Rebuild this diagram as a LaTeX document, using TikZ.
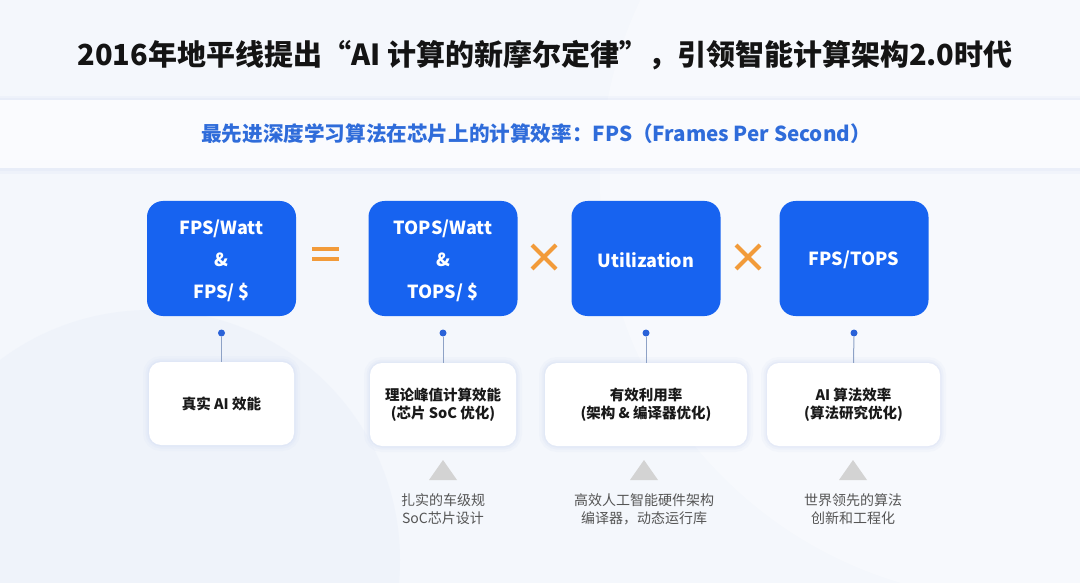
\documentclass[tikz,border=0pt]{standalone}
\usepackage{fontspec}
\setmainfont{Noto Sans CJK SC}
\definecolor{bg}{HTML}{F4F7FC}
\definecolor{bgdeco}{HTML}{ECF1FA}
\definecolor{band}{HTML}{FAFBFE}
\definecolor{mainblue}{HTML}{1763F0}
\definecolor{subblue}{HTML}{2F6CDA}
\definecolor{dotblue}{HTML}{2A62D8}
\definecolor{linec}{HTML}{8EA2C6}
\definecolor{orangec}{HTML}{F29B3A}
\definecolor{trigray}{HTML}{D3D3D3}
\definecolor{notegray}{HTML}{555555}
\definecolor{shadowc}{HTML}{C9D6F2}
\tikzset{
 bluebox/.style={fill=mainblue, rounded corners=16pt, minimum width=149pt, minimum height=115pt, inner sep=0pt},
 boxtext/.style={inner sep=0pt, text=white, font=\bfseries\fontsize{18}{32}\selectfont, align=center},
 whitebox/.style={fill=white, rounded corners=12pt, minimum height=83pt, inner sep=0pt, font=\bfseries\fontsize{14.5}{18}\selectfont, align=center, text=black!90,
   preaction={draw=shadowc, line width=12pt, draw opacity=0.10},
   preaction={draw=shadowc, line width=7pt, draw opacity=0.14},
   preaction={draw=shadowc, line width=3pt, draw opacity=0.20}},
 dotc/.style={circle, fill=dotblue, inner sep=0pt, minimum size=7pt},
 conn/.style={draw=linec, line width=1pt},
 opsym/.style={draw=orangec, line width=4pt},
 tri/.style={fill=trigray},
 note/.style={font=\fontsize{14}{18}\selectfont, text=notegray, align=center}
}
\begin{document}
\begin{tikzpicture}[x=1pt,y=-1pt]
\useasboundingbox (0,0) rectangle (1080,583);
\fill[bg] (0,0) rectangle (1080,583);
% faint background decoration
\fill[bgdeco, opacity=0.6] (150,560) circle (250);
\fill[white, opacity=0.35] (1020,180) circle (420);
% subtitle band
\fill[shadowc, opacity=0.12] (0,96) rectangle (1080,174);
\fill[shadowc, opacity=0.15] (0,98) rectangle (1080,171);
\fill[band] (0,100) rectangle (1080,168);

% title
\node[font=\bfseries\fontsize{29}{34}\selectfont, text=black!92] (title) at (545,55) {2016年地平线提出“AI 计算的新摩尔定律”，引领智能计算架构2.0时代};
% subtitle
\node[font=\bfseries\fontsize{20.6}{24}\selectfont, text=subblue] (sub) at (536,134) {最先进深度学习算法在芯片上的计算效率：FPS（Frames Per Second）};

% blue boxes
\node[bluebox] (b1) at (221.5,258.5) {};
\node[bluebox] (b2) at (443,258.5) {};
\node[bluebox] (b3) at (646,258.5) {};
\node[bluebox] (b4) at (854,258.5) {};
\node[boxtext] (b1t) at (221.5,261) {FPS/Watt\\\&\\FPS/ \$};
\node[boxtext] (b2t) at (443,261) {TOPS/Watt\\\&\\TOPS/ \$};
\node[boxtext] (b3t) at (646,260) {Utilization};
\node[boxtext] (b4t) at (854,260) {FPS/TOPS};

% operators
\draw[opsym] (312,249) -- (339,249) (312,259) -- (339,259);
\draw[opsym] (532,245) -- (556,269) (532,269) -- (556,245);
\draw[opsym] (736,245) -- (760,269) (736,269) -- (760,245);

% white boxes
\node[whitebox, minimum width=145pt] (w1) at (221.5,403.5) {真实 AI 效能};
\node[whitebox, minimum width=146pt] (w2) at (443,404.5) {理论峰值计算效能\\(芯片 SoC 优化)};
\node[whitebox, minimum width=202pt] (w3) at (646,404.5) {有效利用率\\(架构 \& 编译器优化)};
\node[whitebox, minimum width=173pt] (w4) at (853.5,404.5) {AI 算法效率\\(算法研究优化)};

% dots and connectors
\node[dotc] (d1) at (221.5,333) {};
\node[dotc] (d2) at (443,333) {};
\node[dotc] (d3) at (646,333) {};
\node[dotc] (d4) at (854,333) {};
\draw[conn] (d1) -- (w1.north);
\draw[conn] (d2) -- (w2.north);
\draw[conn] (d3) -- (w3.north);
\draw[conn] (d4) -- (w4.north);

% triangles
\fill[tri] (429,480) -- (443,460) -- (457,480) -- cycle;
\fill[tri] (630,480) -- (644,460) -- (658,480) -- cycle;
\fill[tri] (839,480) -- (853,460) -- (867,480) -- cycle;

% notes
\node[note] (n2) at (443,509) {扎实的车级规\\SoC芯片设计};
\node[note] (n3) at (644,509) {高效人工智能硬件架构\\编译器，动态运行库};
\node[note] (n4) at (853,509) {世界领先的算法\\创新和工程化};
\end{tikzpicture}
\end{document}
